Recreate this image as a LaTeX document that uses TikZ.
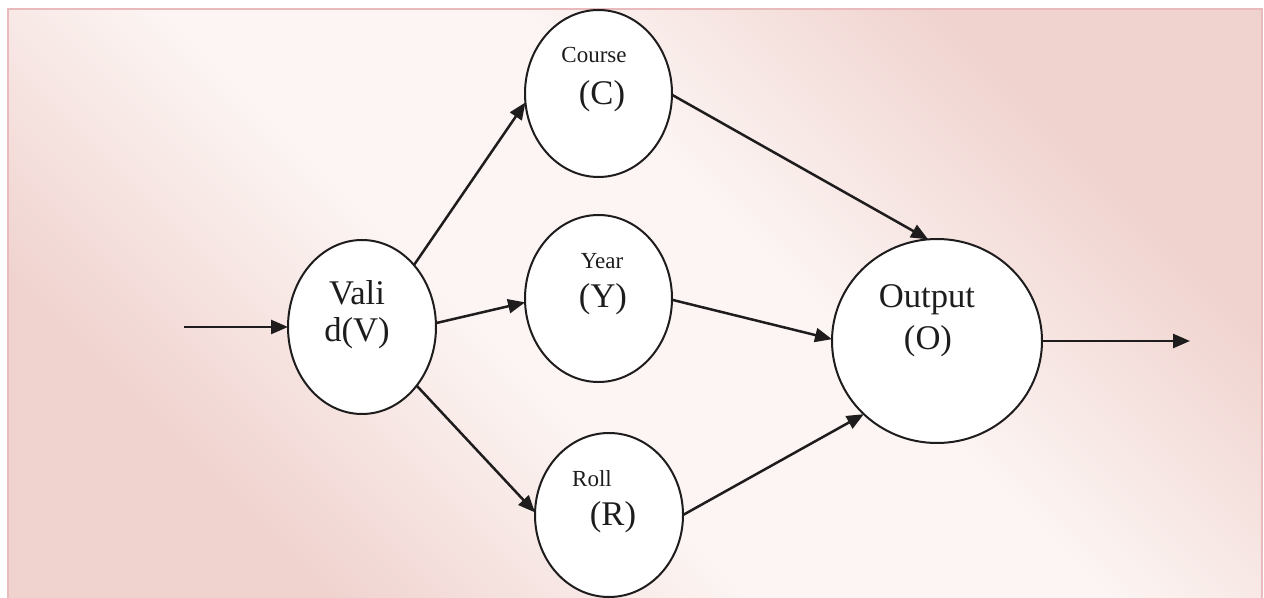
\documentclass[tikz,border=0pt]{standalone}
\usepackage{fontspec}
\setmainfont{Liberation Serif}
\usetikzlibrary{shapes.geometric,arrows.meta}
\definecolor{bgpink}{RGB}{240,211,207}
\definecolor{bglight}{RGB}{252,245,243}
\definecolor{framepink}{RGB}{232,186,188}
\definecolor{ink}{RGB}{30,28,28}
% paper tint: pink towards two opposite corners, pale along the other diagonal
\pgfdeclareverticalshading{papertint}{100bp}{%
  color(0bp)=(bgpink); color(27bp)=(bgpink); color(43bp)=(bglight);
  color(57bp)=(bglight); color(73bp)=(bgpink); color(100bp)=(bgpink)}
\begin{document}
\begin{tikzpicture}[x=0.5pt,y=-0.5pt,
  state/.style={ellipse, draw=ink, line width=1pt, fill=white, inner sep=0pt, outer sep=0pt},
  bigtxt/.style={font=\fontsize{17.3}{20}\selectfont, text=ink, inner sep=0pt, anchor=base},
  smalltxt/.style={font=\fontsize{11.5}{14}\selectfont, text=ink, inner sep=0pt, anchor=base},
  flow/.style={draw=ink, line width=1.25pt, -{Triangle[length=8.5pt,width=7pt]}}]
\useasboundingbox (0,0) rectangle (1264,598);
% paper and its frame
\fill[white] (0,0) rectangle (1264,598);
\shade[shading=papertint, shading angle=-45] (8,9) rectangle (1262,598);
\draw[framepink, line width=0.8pt] (8,598) -- (8,9) -- (1262,9) -- (1262,598);

% states
\node[state, minimum width=74pt, minimum height=87pt] (V) at (362,327) {};
\node[state, minimum width=73.5pt, minimum height=83.5pt] (C) at (598.5,93.5) {};
\node[state, minimum width=73.5pt, minimum height=83.5pt] (Y) at (598.5,298.5) {};
\node[state, minimum width=74pt, minimum height=82pt] (R) at (609,515) {};
\node[state, minimum width=105pt, minimum height=102pt] (O) at (937,341) {};

% labels
\node[bigtxt] (vtop) at (357,305) {Vali};
\node[bigtxt] (vbot) at (357,342) {d(V)};
\node[smalltxt] (ctop) at (594,63) {Course};
\node[bigtxt] (cbot) at (602,105) {(C)};
\node[smalltxt] (ytop) at (602,269) {Year};
\node[bigtxt] (ybot) at (603,308) {(Y)};
\node[smalltxt] (rtop) at (592,487) {Roll};
\node[bigtxt] (rbot) at (613,525) {(R)};
\node[bigtxt] (otop) at (927,308) {Output};
\node[bigtxt] (obot) at (928,350) {(O)};

% connectors
\coordinate (in) at (184,327);
\coordinate (out) at (1190,341);
\draw[flow] (in) -- (V.west);
\draw[flow] (V.50) -- (C.187);
\draw[flow] (V.3) -- (Y.183);
\draw[flow] (V.-47) -- (R.178);
\draw[flow] (C.-1) -- (O.95);
\draw[flow] (Y.-1) -- (O.179);
\draw[flow] (R.0) -- (O.225);
\draw[flow] (O.east) -- (out);
\end{tikzpicture}
\end{document}
